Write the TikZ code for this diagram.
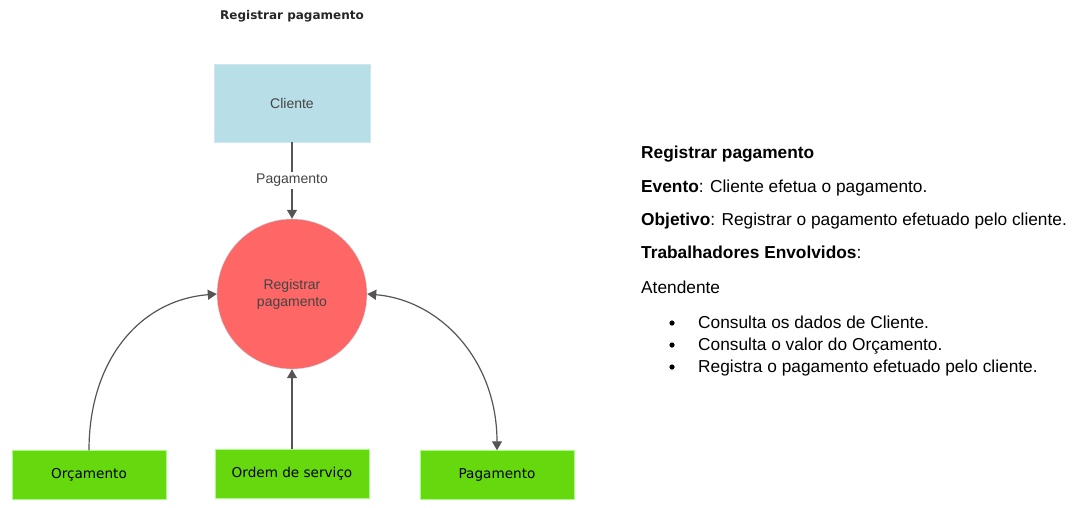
\documentclass[tikz,border=0pt]{standalone}
\usepackage{fontspec}
\setmainfont{Liberation Sans}
\newfontfamily\tahomalike{DejaVu Sans}
\usetikzlibrary{arrows.meta}
\definecolor{cliblue}{HTML}{B8DEE8}
\definecolor{procred}{HTML}{FF6666}
\definecolor{entgreen}{HTML}{66D90E}
\definecolor{arrgrey}{HTML}{555555}
\definecolor{txtgrey}{HTML}{444444}
\tikzset{
  entbox/.style={draw=green!60!lime!50, fill=entgreen, minimum width=154pt, minimum height=49pt, inner sep=0pt, font=\tahomalike\fontsize{13.6}{15}\selectfont, text=black},
  clibox/.style={draw=cliblue!70, fill=cliblue, minimum width=156pt, minimum height=78pt, inner sep=0pt, font=\fontsize{14}{16}\selectfont, text=txtgrey},
  proc/.style={circle, draw=cliblue, fill=procred, minimum size=150pt, inner sep=0pt, font=\fontsize{14}{17}\selectfont, text=txtgrey, align=center},
  flow/.style={draw=arrgrey, line width=1.2pt, -{Triangle[length=9pt,width=10pt]}},
  bflow/.style={draw=arrgrey, line width=1.2pt, {Triangle[length=9pt,width=10pt]}-{Triangle[length=9pt,width=10pt]}},
  rtxt/.style={anchor=base west, inner sep=0pt, font=\fontsize{17.3}{20}\selectfont}
}
\begin{document}
\begin{tikzpicture}[x=1pt,y=-1pt]
\useasboundingbox (0,0) rectangle (1076,507);
\node[font=\tahomalike\bfseries\fontsize{12}{14}\selectfont, text=black!85] (title) at (292,16) {Registrar pagamento};
\node[clibox] (cli) at (292,103) {Cliente};
\node[proc] (reg) at (292,294) {Registrar\\pagamento};
\node[entbox] (orc) at (89,475) {Orçamento};
\node[entbox] (ord) at (292,474) {Ordem de serviço};
\node[entbox] (pag) at (497,475) {Pagamento};
\draw[flow] (cli.south) -- node[fill=white, inner sep=2pt, font=\fontsize{14}{16}\selectfont, text=txtgrey]{Pagamento} (reg.north);
\draw[flow] (ord.north) -- (reg.south);
\draw[flow] (orc.north) .. controls (89,360) and (140,300) .. (reg.west);
\draw[bflow] (reg.east) .. controls (440,300) and (497,360) .. (pag.north);
% right text
\node[rtxt, font=\bfseries\fontsize{17.3}{20}\selectfont] (t1) at (641,158) {Registrar pagamento};
\node[rtxt] (t2) at (641,192) {\textbf{Evento}: Cliente efetua o pagamento.};
\node[rtxt] (t3) at (641,225) {\textbf{Objetivo}: Registrar o pagamento efetuado pelo cliente.};
\node[rtxt] (t4) at (641,258) {\textbf{Trabalhadores Envolvidos}:};
\node[rtxt] (t5) at (641,293) {Atendente};
\node[rtxt] (b1) at (698,328) {Consulta os dados de Cliente.};
\node[rtxt] (b2) at (698,350) {Consulta o valor do Orçamento.};
\node[rtxt] (b3) at (698,372) {Registra o pagamento efetuado pelo cliente.};
\foreach \y in {323,345,367} \fill (672,\y) circle (2.6pt);
\end{tikzpicture}
\end{document}
